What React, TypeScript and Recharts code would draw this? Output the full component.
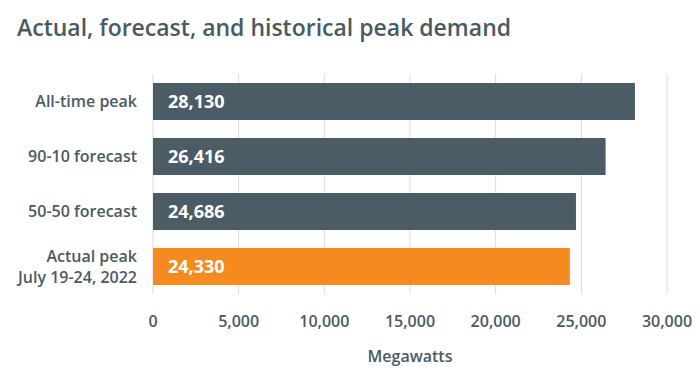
import { BarChart, Bar, XAxis, YAxis, CartesianGrid, LabelList, Cell } from 'recharts'

const categories = ['All-time peak', '90-10 forecast', '50-50 forecast', 'Actual peak\nJuly 19-24, 2022']
const megawatts = [28130, 26416, 24686, 24330]
const xTicks = [0, 5000, 10000, 15000, 20000, 25000, 30000]

const SLATE = '#4b5c66'
const ORANGE = '#f58b1f'
const TEXT = '#4a5a63'
const FONT = '"Open Sans", sans-serif'

const data = categories.map((name, i) => ({ name, value: megawatts[i] }))

function CategoryTick({ x, y, payload }: any) {
  const lines = String(payload.value).split('\n')
  const lh = 21
  const start = -((lines.length - 1) * lh) / 2
  return (
    <text x={x} y={y} textAnchor="end" fill={TEXT} fontSize={16} fontWeight={600} fontFamily={FONT}>
      {lines.map((l, i) => (
        <tspan key={i} x={x} dy={i === 0 ? start + 5.5 : lh}>{l}</tspan>
      ))}
    </text>
  )
}

export default function App() {
  return (
    <div style={{ position: 'relative', width: 700, height: 383, background: '#fff' }}>
      <style>{'body{margin:0}'}</style>
      <div style={{ position: 'absolute', left: 17, top: 11, fontFamily: FONT, fontSize: 23, fontWeight: 600, color: TEXT, whiteSpace: 'nowrap' }}>
        Actual, forecast, and historical peak demand
      </div>
      <BarChart
        width={700}
        height={383}
        layout="vertical"
        data={data}
        margin={{ top: 74, right: 33, left: 0, bottom: 19 }}
        barCategoryGap={9}
      >
        <CartesianGrid horizontal={false} stroke="#d9dcde" />
        <XAxis
          type="number"
          domain={[0, 30000]}
          ticks={xTicks}
          tickFormatter={(v: number) => v.toLocaleString('en-US')}
          axisLine={false}
          tickLine={false}
          tickMargin={16}
          height={70}
          tick={{ fill: TEXT, fontSize: 16, fontWeight: 600, fontFamily: FONT }}
          label={{ value: 'Megawatts', position: 'insideBottom', offset: 2, fill: TEXT, fontSize: 16, fontWeight: 600, fontFamily: FONT }}
        />
        <YAxis
          type="category"
          dataKey="name"
          width={153}
          axisLine={false}
          tickLine={false}
          tickMargin={10}
          tick={<CategoryTick />}
        />
        <Bar dataKey="value" isAnimationActive={false}>
          {data.map((d, i) => (
            <Cell key={d.name} fill={i === data.length - 1 ? ORANGE : SLATE} />
          ))}
          <LabelList
            dataKey="value"
            position="insideLeft"
            offset={15}
            formatter={(v: any) => Number(v).toLocaleString('en-US')}
            fill="#fff"
            fontSize={18}
            fontWeight="bold"
            fontFamily={FONT}
          />
        </Bar>
      </BarChart>
    </div>
  )
}
